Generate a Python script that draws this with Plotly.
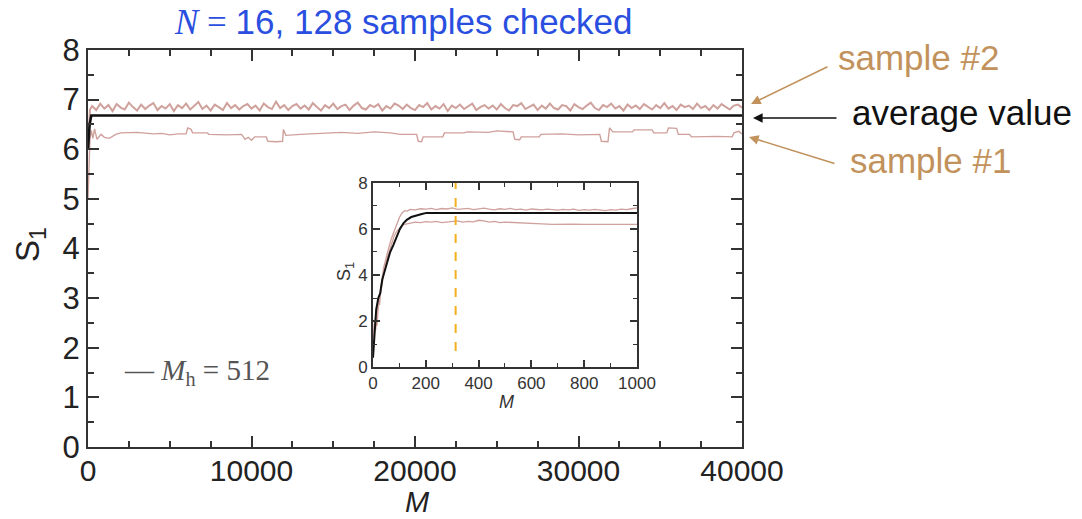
import plotly.graph_objects as go

# ---------------- data ----------------
# main panel: sample #2 (upper, noisy)
m2_start = [0, 60, 120]
s2_start = [6.0, 6.6, 6.8]
m2_grid = list(range(250, 40001, 250))
s2_grid = [
    6.87, 6.79, 6.92, 6.82, 6.89, 6.77, 6.91, 6.84, 6.80, 6.94,
    6.85, 6.78, 6.90, 6.81, 6.88, 6.93, 6.79, 6.87, 6.82, 6.91,
    6.77, 6.89, 6.83, 6.92, 6.80, 6.87, 6.95, 6.81, 6.88, 6.78,
    6.90, 6.85, 6.79, 6.93, 6.83, 6.89, 6.80, 6.87, 6.91, 6.82,
    6.88, 6.78, 6.92, 6.85, 6.81, 6.96, 6.83, 6.89, 6.79, 6.87,
    6.91, 6.82, 6.88, 6.80, 6.93, 6.85, 6.78, 6.89, 6.83, 6.92,
    6.81, 6.87, 6.90, 6.79, 6.88, 6.94, 6.83, 6.80, 6.89, 6.85,
    6.91, 6.78, 6.87, 6.82, 6.92, 6.88, 6.81, 6.90, 6.83, 6.79,
    6.89, 6.85, 6.93, 6.80, 6.87, 6.82, 6.91, 6.77, 6.88, 6.83,
    6.90, 6.81, 6.87, 6.92, 6.79, 6.85, 6.89, 6.82, 6.88, 6.80,
    6.91, 6.83, 6.78, 6.89, 6.87, 6.93, 6.81, 6.85, 6.90, 6.79,
    6.88, 6.82, 6.92, 6.83, 6.80, 6.89, 6.87, 6.78, 6.91, 6.85,
    6.81, 6.88, 6.94, 6.83, 6.79, 6.89, 6.85, 6.92, 6.82, 6.87,
    6.78, 6.90, 6.83, 6.88, 6.81, 6.91, 6.85, 6.80, 6.89, 6.83,
    6.93, 6.82, 6.87, 6.79, 6.90, 6.85, 6.88, 6.81, 6.92, 6.83,
    6.87, 6.79, 6.89, 6.82, 6.91, 6.85, 6.80, 6.88, 6.90, 6.84,
]

# main panel: sample #1 (lower, step-like)
m1 = [0, 60, 120, 200, 300, 400, 550, 800, 1000, 1300, 1700, 2000, 3000,
      4000, 4500, 5000, 5500, 6000, 6100, 6300, 6400, 7300, 7400, 8500, 9400,
      9600, 9800, 10000, 10200, 10900, 11000, 11500, 11900, 11950, 12100,
      13000, 14200, 15500, 16500, 17500, 18500, 19100, 20100, 20200, 20400,
      20500, 21700, 21800, 23000, 23200, 24500, 25000, 26000, 26100, 26400,
      26500, 27600, 27700, 29000, 30000, 31300, 31400, 31800, 31900, 32100,
      33300, 33400, 34500, 34600, 35400, 35500, 36000, 36100, 36800, 36900,
      38500, 39400, 39500, 39800, 40000]
s1 = [5.0, 5.9, 6.2, 6.38, 6.22, 6.41, 6.2, 6.3, 6.24, 6.22, 6.3, 6.33, 6.34,
      6.31, 6.32, 6.29, 6.31, 6.31, 6.43, 6.4, 6.33, 6.33, 6.3, 6.29, 6.3,
      6.2, 6.24, 6.18, 6.25, 6.25, 6.16, 6.15, 6.16, 6.40, 6.28,
      6.3, 6.32, 6.34, 6.32, 6.35, 6.33, 6.3, 6.3, 6.16, 6.15,
      6.25, 6.25, 6.33, 6.33, 6.35, 6.34, 6.37, 6.35, 6.2, 6.19,
      6.25, 6.25, 6.3, 6.31, 6.29, 6.3, 6.16, 6.15, 6.43, 6.35,
      6.35, 6.39, 6.39, 6.33, 6.33, 6.43, 6.42, 6.3, 6.3, 6.25,
      6.26, 6.25, 6.33, 6.36, 6.31]

# main panel: average value
m_avg = [0, 100, 200, 40000]
s_avg = [6.0, 6.5, 6.68, 6.68]

# inset: average
mi_avg = [0, 5, 12, 20, 27, 35, 50, 65, 77, 90, 102, 115, 128, 145, 165, 185, 203, 1000]
si_avg = [0.4, 1.5, 2.5, 3.0, 3.2, 3.8, 4.4, 5.0, 5.3, 5.7, 6.0, 6.25, 6.4, 6.52, 6.6, 6.65, 6.7, 6.7]

# inset: sample #2
mi_2 = [0, 5, 10, 15, 20, 25, 30, 40, 50, 60, 70, 80, 90, 100, 110, 120, 130, 140,
        160, 180, 200, 220, 240, 260, 280, 300, 320, 340, 360, 380, 400, 420, 440,
        460, 480, 500, 520, 540, 560, 580, 600, 620, 640, 660, 680, 700, 720, 740,
        760, 780, 800, 820, 840, 860, 880, 900, 920, 940, 960, 980, 1000]
si_2 = [0.8, 2.0, 1.6, 2.4, 3.0, 2.7, 3.5, 4.3, 4.8, 5.2, 5.6, 5.9, 6.2, 6.5, 6.7, 6.8, 6.78, 6.85,
        6.83, 6.88, 6.86, 6.9, 6.84, 6.89, 6.87, 6.92, 6.85, 6.88, 6.9, 6.84, 6.87, 6.91, 6.86,
        6.83, 6.88, 6.85, 6.9, 6.84, 6.86, 6.82, 6.87, 6.85, 6.83, 6.86, 6.84, 6.82, 6.85, 6.83,
        6.86, 6.81, 6.84, 6.82, 6.85, 6.83, 6.80, 6.84, 6.82, 6.86, 6.84, 6.88, 6.92]

# inset: sample #1
mi_1 = [0, 5, 10, 15, 20, 25, 30, 40, 50, 60, 70, 80, 90, 100, 110, 120,
        140, 160, 180, 200, 220, 240, 260, 280, 300, 320, 340, 360, 380, 400, 420,
        440, 460, 480, 500, 540, 580, 600, 640, 680, 720, 760, 800, 840, 880, 920, 960, 1000]
si_1 = [0.5, 1.8, 2.2, 1.8, 2.6, 3.0, 3.4, 4.0, 4.6, 5.0, 5.4, 5.7, 5.9, 6.05, 6.15, 6.2,
        6.25, 6.3, 6.28, 6.32, 6.3, 6.33, 6.28, 6.3, 6.32, 6.35, 6.3, 6.33, 6.31, 6.38, 6.35,
        6.3, 6.33, 6.28, 6.3, 6.27, 6.25, 6.22, 6.22, 6.2, 6.22, 6.21, 6.2, 6.2, 6.22, 6.2, 6.21, 6.2]

# inset: marker line at M_h
m_h_line = [313, 313]
s_h_line = [0.7, 8]

main_xticks = [0, 10000, 20000, 30000, 40000]
main_xticktext = ["0", "10000", "20000", "30000", "40000"]
main_yticks = [0, 1, 2, 3, 4, 5, 6, 7, 8]
inset_xticks = [0, 200, 400, 600, 800, 1000]
inset_xticktext = ["0", "200", "400", "600", "800", "1000"]
inset_yticks = [0, 2, 4, 6, 8]

# ---------------- styling ----------------
PINK = "#cfa19c"
BLACK = "#111111"
TAN = "#c2925c"
AX = "#333333"
FONT = "Liberation Sans, Arial, sans-serif"
SERIF = "Liberation Serif, Times New Roman, serif"

fig = go.Figure()

fig.add_trace(go.Scatter(x=m2_start + m2_grid, y=s2_start + s2_grid, mode="lines",
                         line=dict(color=PINK, width=2), xaxis="x", yaxis="y"))
fig.add_trace(go.Scatter(x=m1, y=s1, mode="lines",
                         line=dict(color=PINK, width=1.4), xaxis="x", yaxis="y"))
fig.add_trace(go.Scatter(x=m_avg, y=s_avg, mode="lines",
                         line=dict(color=BLACK, width=2.6), xaxis="x", yaxis="y"))

fig.add_trace(go.Scatter(x=mi_2, y=si_2, mode="lines",
                         line=dict(color=PINK, width=1.3), xaxis="x2", yaxis="y2"))
fig.add_trace(go.Scatter(x=mi_1, y=si_1, mode="lines",
                         line=dict(color=PINK, width=1.3), xaxis="x2", yaxis="y2"))
fig.add_trace(go.Scatter(x=mi_avg, y=si_avg, mode="lines",
                         line=dict(color=BLACK, width=2), xaxis="x2", yaxis="y2"))
fig.add_trace(go.Scatter(x=m_h_line, y=s_h_line, mode="lines",
                         line=dict(color="#f2b01e", width=2, dash="dash"), xaxis="x2", yaxis="y2"))

axis_common = dict(showgrid=False, zeroline=False, showline=True, linecolor=AX,
                   linewidth=2, mirror="ticks", ticks="inside", tickcolor=AX,
                   tickwidth=2)

fig.update_layout(
    width=1082, height=519,
    margin=dict(l=88, r=340, t=50, b=72),
    paper_bgcolor="white", plot_bgcolor="white",
    showlegend=False,
    font=dict(family=FONT, color="#222222"),
    xaxis=dict(**axis_common, domain=[0, 1], range=[0, 40000], tickvals=main_xticks,
               ticktext=main_xticktext, ticklabelstandoff=-4,
               ticklen=11, tickfont=dict(size=30, family=FONT, color="#222"),
               minor=dict(ticks="inside", dtick=2500, ticklen=6, tickcolor=AX, tickwidth=1.5),
               anchor="y"),
    yaxis=dict(**axis_common, domain=[0, 1], range=[0, 8], tickvals=main_yticks,
               ticklen=11, tickfont=dict(size=31, family=FONT, color="#222"),
               minor=dict(ticks="inside", dtick=0.5, ticklen=6, tickcolor=AX, tickwidth=1.5),
               anchor="x"),
    xaxis2=dict(**axis_common, domain=[0.4358, 0.8394], range=[0, 1000], tickvals=inset_xticks,
                ticktext=inset_xticktext,
                ticklen=7, tickfont=dict(size=17, family=FONT, color="#333"),
                minor=dict(ticks="inside", dtick=100, ticklen=4, tickcolor=AX, tickwidth=1.2),
                anchor="y2"),
    yaxis2=dict(**axis_common, domain=[0.2015, 0.665], range=[0, 8], tickvals=inset_yticks,
                ticklen=7, tickfont=dict(size=17, family=FONT, color="#333"),
                minor=dict(ticks="inside", dtick=1, ticklen=4, tickcolor=AX, tickwidth=1.2),
                anchor="x2"),
)

ann = []
# title
ann.append(dict(xref="paper", yref="paper", x=(403 - 88) / 654, y=(447 - 22) / 397,
                xanchor="center", yanchor="middle", showarrow=False,
                text='<span style="font-family:Liberation Serif, Times New Roman, serif"><i>N</i> = </span>16, 128 samples checked',
                font=dict(size=35, color="#2a4fe0", family=FONT)))
# axis titles
ann.append(dict(xref="paper", yref="paper", x=(417 - 88) / 654, y=(447 - 519) / 397,
                xanchor="center", yanchor="bottom", showarrow=False, borderpad=0,
                text="<i>M</i>", font=dict(size=29, color="#222", family=FONT)))
ann.append(dict(xref="paper", yref="paper", x=(30 - 88) / 654, y=(447 - 245) / 397,
                xanchor="center", yanchor="middle", showarrow=False, textangle=-90,
                text="S<sub>1</sub>", font=dict(size=33, color="#222", family=FONT)))
# inset axis titles
ann.append(dict(xref="paper", yref="paper", x=(506 - 88) / 654, y=(447 - 402) / 397,
                xanchor="center", yanchor="middle", showarrow=False,
                text="<i>M</i>", font=dict(size=18, color="#333", family=FONT)))
ann.append(dict(xref="paper", yref="paper", x=(345 - 88) / 654, y=(447 - 272) / 397,
                xanchor="center", yanchor="middle", showarrow=False, textangle=-90,
                text="S<sub>1</sub>", font=dict(size=18, color="#333", family=FONT)))
# M_h label
ann.append(dict(xref="paper", yref="paper", x=(122 - 88) / 654, y=(447 - 372) / 397,
                xanchor="left", yanchor="middle", showarrow=False,
                text="— <i>M</i><sub>h</sub> = 512", font=dict(size=29, color="#555", family=SERIF)))

# right-side labels with arrows
def arrow_label(text, color, head, tail, tpos, anchor="left"):
    ann.append(dict(xref="paper", yref="paper",
                    x=(head[0] - 88) / 654, y=(447 - head[1]) / 397,
                    ax=tail[0] - head[0], ay=tail[1] - head[1], axref="pixel", ayref="pixel",
                    showarrow=True, arrowhead=2, arrowsize=1.2, arrowwidth=1.6,
                    arrowcolor=color, text=""))
    ann.append(dict(xref="paper", yref="paper",
                    x=(tpos[0] - 88) / 654, y=(447 - tpos[1]) / 397,
                    xanchor=anchor, yanchor="middle", showarrow=False,
                    text=text, font=dict(size=35, color=color, family=FONT)))

arrow_label("sample #2", TAN, (751, 104), (829, 66), (836, 58))
arrow_label("average value", "#111", (753, 118), (838, 118), (850, 112))
arrow_label("sample #1", TAN, (749, 137), (836, 164), (848, 160))

fig.update_layout(annotations=ann)

fig.write_html("out.html")
